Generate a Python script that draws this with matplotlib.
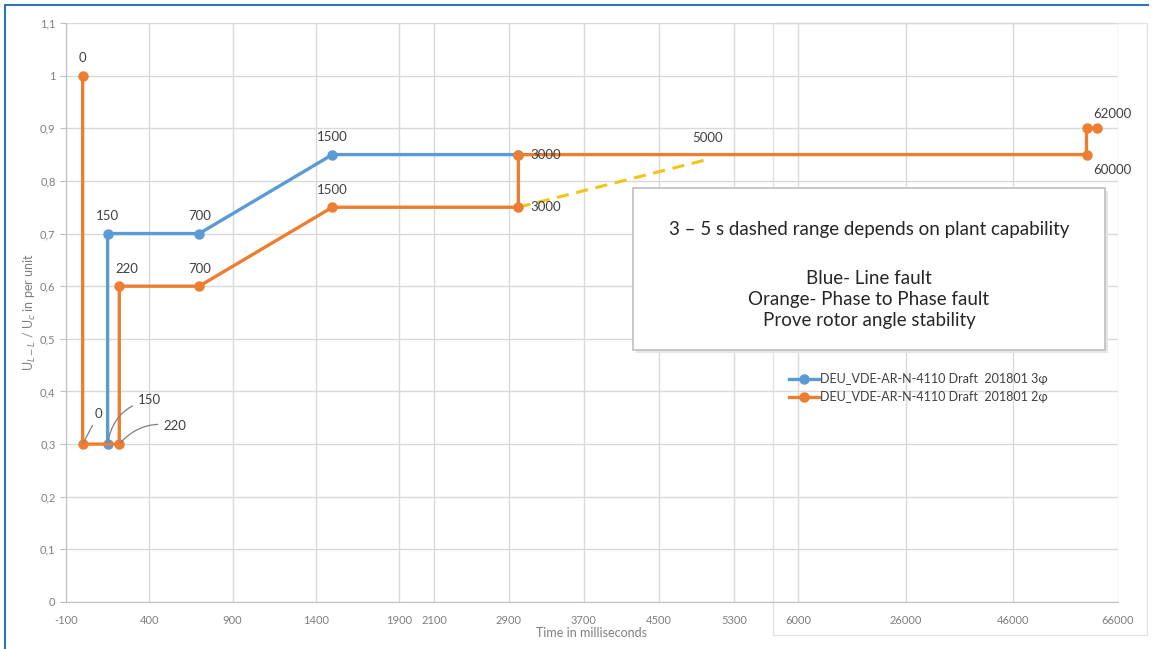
import numpy as np
import matplotlib
matplotlib.use("Agg")
import matplotlib.pyplot as plt
from matplotlib.patches import Rectangle
from matplotlib.lines import Line2D

plt.rcParams['font.family'] = ['Lato', 'DejaVu Sans']

# data (time in ms, voltage in per unit)
blue_t = [150, 150, 700, 1500, 3000]
blue_u = [0.3, 0.7, 0.7, 0.85, 0.85]
orange_t = [0, 0, 220, 220, 700, 1500, 3000, 3000, 60000, 60000, 62000]
orange_u = [1.0, 0.3, 0.3, 0.6, 0.6, 0.75, 0.75, 0.85, 0.85, 0.9, 0.9]
dash_t = [3000, 5000]
dash_u = [0.75, 0.84]

xticks = [-100, 400, 900, 1400, 1900, 2100, 2900, 3700, 4500, 5300, 6000, 26000, 46000, 66000]
yticks = [0, 0.1, 0.2, 0.3, 0.4, 0.5, 0.6, 0.7, 0.8, 0.9, 1.0, 1.1]
ylabels = ['0', '0,1', '0,2', '0,3', '0,4', '0,5', '0,6', '0,7', '0,8', '0,9', '1', '1,1']

legend_labels = ['DEU_VDE-AR-N-4110 Draft  201801 3\u03c6',
                 'DEU_VDE-AR-N-4110 Draft  201801 2\u03c6']

# piecewise time axis (the picture is stitched from several scales)
ms_knots = [-100, 1900, 2100, 5300, 6000, 26000, 46000, 66000]
px_knots = [66, 399, 434, 734, 798, 906, 1013, 1118]


def fwd(x):
    return np.interp(x, ms_knots, px_knots)


def inv(u):
    return np.interp(u, px_knots, ms_knots)


W, H = 1154, 649
BLUE = '#5B9BD5'
ORANGE = '#ED7D31'
GRID = '#D9D9D9'
TXT = '#404040'


def fx(px):
    return px / W


def fy(py):
    return 1 - py / H


fig = plt.figure(figsize=(W / 100, H / 100), dpi=100)
ax = fig.add_axes([fx(66), fy(602), (1118 - 66) / W, (602 - 23) / H])
ax.patch.set_alpha(0)
ax.set_xscale('function', functions=(fwd, inv))
ax.set_xlim(-100, 66000)
ax.set_ylim(0, 1.1)

ax.set_xticks(xticks)
ax.set_xticklabels([str(t) for t in xticks])
ax.set_yticks(yticks)
ax.set_yticklabels(ylabels)
ax.minorticks_off()
ax.grid(True, color=GRID, linewidth=1)
ax.set_axisbelow(True)
ax.tick_params(axis='x', length=0, pad=9, labelsize=8, labelcolor='#7F7F7F')
ax.tick_params(axis='y', length=4, color='#BFBFBF', labelsize=8, labelcolor='#7F7F7F')
for s in ['top', 'right']:
    ax.spines[s].set_visible(False)
for s in ['left', 'bottom']:
    ax.spines[s].set_color('#BFBFBF')

ax.plot(dash_t, dash_u, color='#F2C318', linewidth=2.2, linestyle=(0, (4, 2.5)), zorder=3)
lb, = ax.plot(blue_t, blue_u, color=BLUE, linewidth=2.4, marker='o', markersize=6.5, zorder=4)
lo, = ax.plot(orange_t, orange_u, color=ORANGE, linewidth=2.4, marker='o', markersize=6.5, zorder=5)

ax.set_xlabel('Time in milliseconds', fontsize=9, color='#7F7F7F', labelpad=1)
ax.set_ylabel(r'U$_{L-L}$ / U$_{c}$ in per unit', fontsize=9, color='#7F7F7F')
ax.yaxis.set_label_coords(-0.027, 0.5)

# point labels
def lab(t, u, s, dx, dy, ha='center'):
    ax.annotate(s, (t, u), xytext=(dx, dy), textcoords='offset pixels',
                ha=ha, va='center', fontsize=9.5, color=TXT, zorder=6)

lab(0, 1.0, '0', 0, 18)
lab(150, 0.7, '150', 0, 18)
lab(700, 0.7, '700', 0, 18)
lab(1500, 0.85, '1500', 0, 18)
lab(220, 0.6, '220', 8, 17)
lab(700, 0.6, '700', 0, 17)
lab(1500, 0.75, '1500', 0, 17)
lab(3000, 0.85, '3000', 12, 0, ha='left')
lab(3000, 0.75, '3000', 12, 0, ha='left')
lab(5000, 0.84, '5000', 2, 22)
lab(62000, 0.9, '62000', 15, 14)
lab(60000, 0.85, '60000', 26, -15)

# leader-line labels at the dip
for t, s, dx, dy, rad in [(0, '0', 12, 30, 0.0), (150, '150', 30, 44, 0.35), (220, '220', 44, 18, 0.3)]:
    ax.annotate(s, (t, 0.3), xytext=(dx, dy), textcoords='offset pixels',
                ha='left', va='center', fontsize=9.5, color=TXT, zorder=6,
                arrowprops=dict(arrowstyle='-', color='#7F7F7F', lw=0.9,
                                connectionstyle='arc3,rad=%s' % rad, shrinkA=2, shrinkB=1))

fig.legend([lb, lo], legend_labels, loc='upper left', bbox_to_anchor=(fx(778), fy(362)),
           frameon=False, fontsize=9, handlelength=2.4, handletextpad=0.1,
           labelspacing=0.45, labelcolor=TXT)

# stitched panel outline
fig.add_artist(Rectangle((fx(773), fy(635)), (1147 - 773) / W, (635 - 23) / H,
                         transform=fig.transFigure, fill=False, edgecolor='#E3E3E3', lw=1, zorder=-1))

# note box with light shadow
fig.add_artist(Rectangle((fx(636), fy(353)), (1105 - 633) / W, (350 - 188) / H,
                         transform=fig.transFigure, facecolor='#E6E6E6', edgecolor='none', zorder=6.5))
fig.add_artist(Rectangle((fx(633), fy(350)), (1105 - 633) / W, (350 - 188) / H,
                         transform=fig.transFigure, facecolor='white', edgecolor='#BFBFBF', lw=1.2, zorder=7))
fig.text(fx(869), fy(229), '3 \u2013 5 s dashed range depends on plant capability',
         ha='center', va='center', fontsize=13.5, color='#262626', zorder=8)
for py, s in [(278, 'Blue- Line fault'), (299, 'Orange- Phase to Phase fault'),
              (320, 'Prove rotor angle stability')]:
    fig.text(fx(869), fy(py), s, ha='center', va='center', fontsize=13.5, color='#262626', zorder=8)

# outer blue frame (left and top)
fig.add_artist(Line2D([fx(5), fx(5), fx(1148)], [fy(649), fy(5), fy(5)],
                      transform=fig.transFigure, color='#2E75B6', lw=1.5))

fig.savefig('out.png', dpi=100)
